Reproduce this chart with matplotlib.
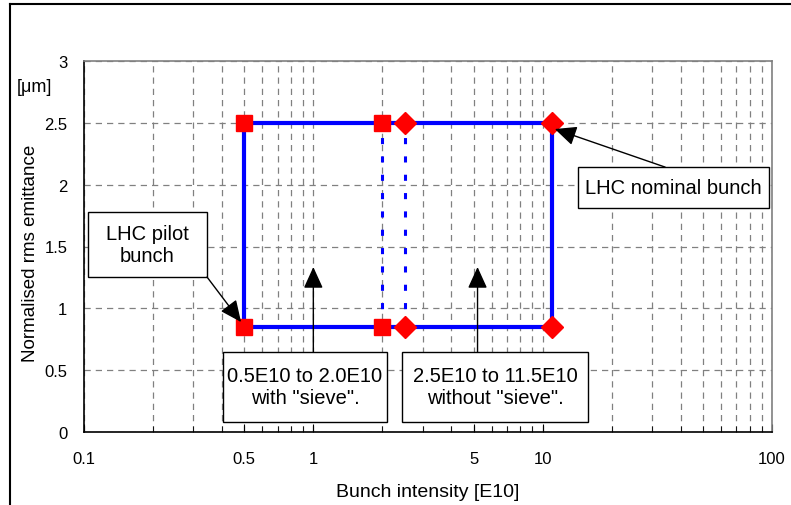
import matplotlib
matplotlib.use("Agg")
from matplotlib import pyplot as plt
from matplotlib.lines import Line2D
from matplotlib.patches import Rectangle
from matplotlib.ticker import FixedLocator, NullFormatter

plt.rcParams['font.family'] = ['Liberation Sans', 'DejaVu Sans']

# data
sieve_x = [0.5, 2.0]          # with "sieve"
nosieve_x = [2.5, 11.0]       # without "sieve"
emit_lo = 0.85
emit_hi = 2.5

x_ticks = [0.1, 0.5, 1, 5, 10, 100]
x_ticklabels = ["0.1", "0.5", "1", "5", "10", "100"]
y_ticks = [0, 0.5, 1, 1.5, 2, 2.5, 3]

fig = plt.figure(figsize=(7.91, 5.06), dpi=100)
ax = fig.add_axes([84 / 791, 1 - 433 / 506, (772 - 84) / 791, (433 - 62) / 506])

blue = "#0000ff"
red = "#ff0000"

# outline box
ax.plot([sieve_x[0], nosieve_x[1]], [emit_lo, emit_lo], color=blue, lw=3, zorder=3)
ax.plot([sieve_x[0], nosieve_x[1]], [emit_hi, emit_hi], color=blue, lw=3, zorder=3)
ax.plot([sieve_x[0], sieve_x[0]], [emit_lo, emit_hi], color=blue, lw=3, zorder=3)
ax.plot([nosieve_x[1], nosieve_x[1]], [emit_lo, emit_hi], color=blue, lw=3, zorder=3)
# dotted inner boundaries
ax.plot([sieve_x[1], sieve_x[1]], [emit_lo, emit_hi], color=blue, lw=2.2,
        linestyle=(0, (2, 4)), zorder=3)
ax.plot([nosieve_x[0], nosieve_x[0]], [emit_lo, emit_hi], color=blue, lw=2.2,
        linestyle=(0, (2, 4)), zorder=3)

# markers
ax.plot(sieve_x * 2, [emit_hi, emit_hi, emit_lo, emit_lo], 's', color=red,
        markersize=11, linestyle='none', zorder=4)
ax.plot(nosieve_x * 2, [emit_hi, emit_hi, emit_lo, emit_lo], 'D', color=red,
        markersize=11, linestyle='none', zorder=4)

ax.set_xscale('log')
ax.set_xlim(0.1, 100)
ax.set_ylim(0, 3)

minor = [m * 10.0 ** e for e in (-1, 0, 1) for m in range(1, 10)
         if round(m * 10.0 ** e, 6) not in x_ticks]
ax.xaxis.set_major_locator(FixedLocator(x_ticks))
ax.set_xticklabels(x_ticklabels)
ax.xaxis.set_minor_locator(FixedLocator(minor))
ax.xaxis.set_minor_formatter(NullFormatter())
ax.set_yticks(y_ticks)
ax.set_yticklabels(["0", "0.5", "1", "1.5", "2", "2.5", "3"])

ax.tick_params(axis='both', which='both', direction='in', labelsize=12)
ax.tick_params(axis='x', which='major', length=6, pad=14)
ax.tick_params(axis='x', which='minor', length=4)
ax.tick_params(axis='y', length=0, pad=12)

ax.grid(True, which='both', axis='x', color='#808080', lw=0.9, linestyle=(0, (5, 4)))
ax.grid(True, which='major', axis='y', color='#808080', lw=0.9, linestyle=(0, (5, 4)))

ax.spines['top'].set_color('#808080')
ax.spines['right'].set_color('#808080')
for s in ax.spines.values():
    s.set_linewidth(1.2)

ax.set_xlabel("Bunch intensity [E10]", fontsize=14, labelpad=12)
ax.set_ylabel("Normalised rms emittance", fontsize=13.5, va='center')
ax.yaxis.set_label_coords(-0.078, 0.485)
fig.text(34 / 791, 1 - 88 / 506, "[\u03bcm]", fontsize=13, ha='center', va='center')

arrow = dict(arrowstyle='-|>,head_length=0.55,head_width=0.25', color='black',
             lw=1, mutation_scale=24, shrinkA=0, shrinkB=0)


def text_box(x0, x1, y0, y1, label):
    # box corners in axes fraction
    ax.add_patch(Rectangle((x0, y0), x1 - x0, y1 - y0, transform=ax.transAxes,
                           fc='white', ec='black', lw=1, zorder=5, clip_on=False))
    ax.text((x0 + x1) / 2, (y0 + y1) / 2, label, transform=ax.transAxes,
            fontsize=14.5, ha='center', va='center', zorder=6, linespacing=1.2)


text_box(0.0058, 0.1788, 0.4178, 0.593, "LHC pilot\nbunch")
ax.annotate("", xy=(0.484, 0.889), xytext=(0.344, 1.253), arrowprops=arrow, zorder=5)

text_box(0.202, 0.4404, 0.027, 0.2156, "0.5E10 to 2.0E10\nwith \"sieve\".")
ax.annotate("", xy=(1.0, 1.334), xytext=(1.0, 0.647), arrowprops=arrow, zorder=5)

text_box(0.4622, 0.7326, 0.027, 0.2156, "2.5E10 to 11.5E10\nwithout \"sieve\".")
ax.annotate("", xy=(5.2, 1.334), xytext=(5.2, 0.647), arrowprops=arrow, zorder=5)

text_box(0.718, 0.9956, 0.6038, 0.7143, "LHC nominal bunch")
ax.annotate("", xy=(11.3, 2.45), xytext=(34.2, 2.142), arrowprops=arrow, zorder=5)

# outer frame lines (top and left)
fig.add_artist(Line2D([10 / 791, 1], [1 - 5 / 506, 1 - 5 / 506], color='black', lw=1.5))
fig.add_artist(Line2D([10 / 791, 10 / 791], [0, 1 - 5 / 506], color='black', lw=1.5))

fig.savefig("out.png", dpi=100)
